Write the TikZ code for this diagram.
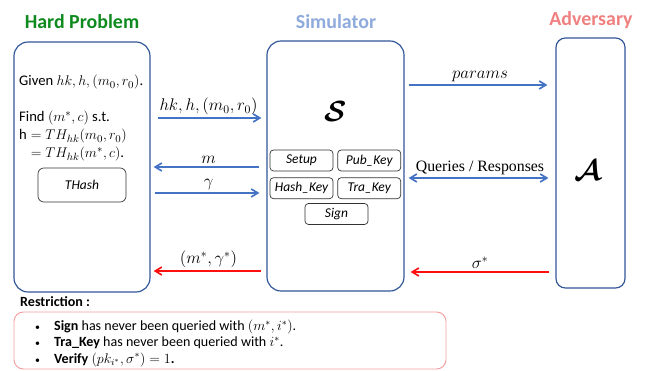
\documentclass[tikz,border=0pt]{standalone}
\usepackage{amsmath}
\usepackage{fontspec}
\setmainfont{Carlito}
\newfontfamily\seriffam{Liberation Serif}
\usetikzlibrary{arrows.meta,positioning}
\definecolor{azulborde}{HTML}{2F5597}
\definecolor{azulflecha}{HTML}{4472C4}
\definecolor{rojoflecha}{HTML}{FF1010}
\definecolor{verdetitulo}{HTML}{0E8A1E}
\definecolor{azultitulo}{HTML}{8FAADC}
\definecolor{rosatitulo}{HTML}{F08080}
\definecolor{rosaborde}{HTML}{F4A0A0}

\begin{document}
\begin{tikzpicture}[
    x=0.3mm, y=-0.3mm,
    font=\fontsize{12.5}{14}\selectfont,
    titulo/.style={font=\fontsize{17}{20}\selectfont\bfseries},
    caja/.style={draw=azulborde, line width=1pt, rounded corners=12pt,
      minimum height=75mm},
    modulo/.style={draw=black!80, line width=0.6pt, rounded corners=3pt,
      minimum width=18.9mm, minimum height=6.3mm, inner sep=1pt,
      font=\fontsize{11.5}{13}\selectfont\itshape},
    flecha/.style={-{Straight Barb[length=2mm,width=2.4mm]}, line width=1.4pt,
      draw=azulflecha},
    retorno/.style={flecha, draw=rojoflecha},
    etiqueta/.style={font=\fontsize{14.5}{16}\selectfont, inner sep=2pt},
    restr/.style={anchor=west, inner sep=0pt, font=\fontsize{12}{13}\selectfont}
  ]
    \useasboundingbox (0,0) rectangle (646,371);

    % titulos
    \node[titulo, text=verdetitulo] (tproblema) at (82,22) {Hard Problem};
    \node[titulo, text=azultitulo] (tsimulador) at (336,22) {Simulator};
    \node[titulo, text=rosatitulo] (tadversario) at (591,20) {Adversary};

    % cajas principales
    \node[caja, minimum width=40.8mm] (problema) at (82,167) {};
    \node[caja, minimum width=41.1mm] (simulador) at (335.5,166) {};
    \node[caja, minimum width=20.7mm, rounded corners=8pt] (adversario) at (590.5,163) {};

    % texto del problema
    \node[anchor=base west, inner sep=0pt] (dado) at (19,86) {Given $hk, h, (m_0, r_0)$.};
    \node[anchor=base west, inner sep=0pt] (buscar) at (19,122) {Find $(m^*, c)$ s.t.};
    \node[anchor=base west, inner sep=0pt] (igual1) at (19,140) {$\mathrm{h} = TH_{hk}(m_0, r_0)$};
    \node[anchor=base west, inner sep=0pt] (igual2) at (19,158) {$\phantom{\mathrm{h}} = TH_{hk}(m^*, c)$.};
    \node[modulo, minimum width=26.4mm, minimum height=10.2mm, rounded corners=5pt]
      (thash) at (82,185) {THash};

    % simulador
    \node (ese) at (336,112) {\fontsize{24.88}{28}\selectfont$\boldsymbol{\mathcal{S}}$};
    \node[modulo] (setup) at (301.5,160.5) {Setup};
    \node[modulo, right=1.2mm of setup] (pubkey) {Pub\_Key};
    \node[modulo, below=1.8mm of setup] (hashkey) {Hash\_Key};
    \node[modulo, right=1.2mm of hashkey] (trakey) {Tra\_Key};
    \node[modulo] (sign) at (336.5,214) {Sign};

    % adversario
    \node (adv) at (588,171) {\fontsize{24.88}{28}\selectfont$\boldsymbol{\mathcal{A}}$};

    % flechas
    \draw[flecha, shorten <=2.1mm, shorten >=1.5mm] (problema.east |- 0,118) -- (simulador.west |- 0,118)
      node[etiqueta, midway, above] {$hk, h, (m_0, r_0)$};
    \draw[flecha, shorten <=2.1mm, shorten >=0.9mm] (simulador.west |- 0,167) -- (problema.east |- 0,167)
      node[etiqueta, midway, above] {$m$};
    \draw[flecha, shorten <=1.2mm, shorten >=2.1mm] (problema.east |- 0,193) -- (simulador.west |- 0,193)
      node[etiqueta, midway, above] {$\gamma$};
    \draw[retorno, shorten <=1.5mm, shorten >=0.9mm] (simulador.west |- 0,271) -- (problema.east |- 0,271)
      node[etiqueta, midway, above] {$(m^*, \gamma^*)$};
    \draw[flecha, shorten <=1.2mm, shorten >=2.4mm] (simulador.east |- 0,85) -- (adversario.west |- 0,85)
      node[etiqueta, midway, above] {$params$};
    \draw[flecha, {Straight Barb[length=2mm,width=2.4mm]}-{Straight Barb[length=2mm,width=2.4mm]},
      shorten <=1.2mm, shorten >=2.1mm] (simulador.east |- 0,178) -- (adversario.west |- 0,178)
      node[etiqueta, midway, above, font=\seriffam\fontsize{13.5}{15}\selectfont] {Queries / Responses};
    \draw[retorno, shorten <=1.8mm, shorten >=1.8mm] (adversario.west |- 0,272) -- (simulador.east |- 0,272)
      node[etiqueta, midway, above] {$\sigma^*$};

    % restricciones
    \node[anchor=west, inner sep=0pt, font=\fontsize{12}{14}\selectfont\bfseries] (trestr) at (20,302) {Restriction :};
    \draw[draw=rosaborde, line width=0.8pt, rounded corners=8pt] (14,312) rectangle (446,369);
    \node[restr] (r1) at (35,327) {\scalebox{0.7}{\textbullet}\hspace{4.2mm}\textbf{Sign} has never been queried with $(m^*, i^*)$.};
    \node[restr] (r2) at (35,342.5) {\scalebox{0.7}{\textbullet}\hspace{4.2mm}\textbf{Tra\_Key} has never been queried with $i^*$.};
    \node[restr] (r3) at (35,359.5) {\scalebox{0.7}{\textbullet}\hspace{4.2mm}\textbf{Verify} $(pk_{i^*}, \sigma^*) = 1$\textbf{.}};
  \end{tikzpicture}
\end{document}
